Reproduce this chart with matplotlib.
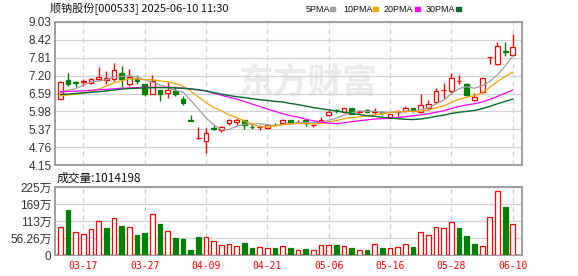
import numpy as np
import matplotlib.pyplot as plt
from matplotlib.patches import Rectangle

# ---- data (60 trading days, 2025-03-12 .. 2025-06-10) ----
opens = [6.40, 7.05, 6.97, 6.99, 6.96, 7.08, 7.05, 7.08, 7.29, 6.92,
         7.09, 6.92, 6.58, 6.72, 6.60, 6.67, 6.39, 5.67, 5.07, 4.98,
         5.40, 5.34, 5.57, 5.62, 5.68, 5.46, 5.44, 5.40, 5.53, 5.59,
         5.70, 5.62, 5.70, 5.50, 5.61, 5.84, 6.02, 5.95, 6.08, 5.97,
         6.04, 5.97, 5.96, 5.80, 5.95, 6.00, 6.09, 5.96, 6.11, 6.30,
         6.70, 6.67, 7.02, 6.90, 6.38, 6.65, 7.83, 7.59, 8.03, 7.91]
highs = [7.00, 7.30, 7.01, 7.08, 7.12, 7.48, 7.37, 7.62, 7.54, 7.43,
         7.23, 6.93, 7.22, 6.72, 6.97, 6.81, 6.52, 5.85, 5.45, 5.42,
         5.51, 5.47, 5.72, 5.76, 5.68, 5.57, 5.52, 5.55, 5.60, 5.72,
         5.70, 5.69, 5.73, 5.54, 5.80, 6.02, 6.07, 6.11, 6.08, 6.04,
         6.06, 6.10, 6.00, 5.90, 6.04, 6.17, 6.11, 6.56, 6.38, 6.77,
         6.96, 7.30, 7.23, 6.94, 6.60, 7.12, 7.84, 8.35, 8.35, 8.61]
lows = [6.39, 6.84, 6.81, 6.85, 6.92, 7.03, 6.90, 7.01, 6.82, 6.84,
        6.92, 6.49, 6.56, 6.35, 6.44, 6.52, 6.19, 5.64, 5.05, 4.57,
        5.36, 5.28, 5.52, 5.52, 5.38, 5.38, 5.36, 5.38, 5.50, 5.55,
        5.58, 5.57, 5.47, 5.45, 5.57, 5.81, 5.93, 5.93, 5.90, 5.90,
        5.93, 5.87, 5.85, 5.79, 5.81, 5.96, 5.95, 5.94, 6.02, 6.26,
        6.44, 6.58, 6.92, 6.49, 6.35, 6.62, 7.59, 7.55, 7.87, 7.89]
closes = [6.99, 6.91, 6.95, 7.00, 7.08, 7.17, 7.12, 7.39, 7.08, 7.17,
          7.02, 6.58, 7.03, 6.58, 6.72, 6.58, 6.28, 5.65, 5.08, 5.23,
          5.38, 5.43, 5.68, 5.69, 5.50, 5.45, 5.46, 5.52, 5.51, 5.70,
          5.58, 5.63, 5.59, 5.51, 5.70, 5.96, 6.01, 6.08, 5.90, 5.98,
          5.95, 5.98, 5.94, 5.88, 6.00, 6.11, 5.98, 6.19, 6.24, 6.69,
          6.72, 7.12, 7.03, 6.53, 6.47, 7.12, 7.84, 8.20, 8.02, 8.16]

ma5 = [6.62, 6.70, 6.76, 6.87, 6.99, 7.02, 7.06, 7.15, 7.17, 7.19,
       7.16, 7.05, 6.98, 6.88, 6.79, 6.70, 6.64, 6.36, 6.06, 5.76,
       5.52, 5.35, 5.36, 5.48, 5.54, 5.55, 5.56, 5.52, 5.49, 5.53,
       5.56, 5.59, 5.60, 5.60, 5.60, 5.68, 5.75, 5.85, 5.93, 5.99,
       5.98, 5.98, 5.95, 5.95, 5.95, 5.98, 5.98, 6.03, 6.10, 6.24,
       6.36, 6.59, 6.76, 6.82, 6.77, 6.85, 7.00, 7.23, 7.53, 7.87]
ma10 = [6.51, 6.54, 6.57, 6.61, 6.65, 6.74, 6.84, 6.95, 7.03, 7.09,
        7.09, 7.06, 7.06, 7.02, 6.99, 6.93, 6.84, 6.67, 6.47, 6.28,
        6.11, 6.00, 5.86, 5.77, 5.65, 5.54, 5.46, 5.44, 5.49, 5.53,
        5.55, 5.57, 5.56, 5.55, 5.57, 5.62, 5.67, 5.73, 5.77, 5.79,
        5.83, 5.87, 5.90, 5.94, 5.97, 5.98, 5.98, 5.99, 6.03, 6.10,
        6.17, 6.29, 6.40, 6.46, 6.51, 6.61, 6.80, 7.00, 7.17, 7.32]
ma20 = [6.65, 6.66, 6.67, 6.68, 6.70, 6.72, 6.73, 6.75, 6.77, 6.78,
        6.79, 6.80, 6.80, 6.80, 6.80, 6.79, 6.77, 6.74, 6.71, 6.68,
        6.60, 6.53, 6.46, 6.40, 6.32, 6.23, 6.15, 6.06, 5.98, 5.90,
        5.83, 5.79, 5.71, 5.66, 5.61, 5.58, 5.56, 5.59, 5.63, 5.66,
        5.69, 5.72, 5.73, 5.74, 5.77, 5.80, 5.83, 5.86, 5.90, 5.95,
        6.00, 6.08, 6.15, 6.20, 6.24, 6.30, 6.39, 6.49, 6.60, 6.71]
ma30 = [6.56, 6.57, 6.59, 6.61, 6.63, 6.65, 6.68, 6.71, 6.74, 6.76,
        6.77, 6.78, 6.79, 6.79, 6.79, 6.78, 6.77, 6.75, 6.72, 6.68,
        6.62, 6.57, 6.52, 6.48, 6.45, 6.41, 6.38, 6.35, 6.32, 6.30,
        6.25, 6.21, 6.16, 6.11, 6.07, 6.03, 5.99, 5.95, 5.91, 5.87,
        5.83, 5.81, 5.78, 5.75, 5.73, 5.71, 5.70, 5.72, 5.76, 5.81,
        5.85, 5.91, 5.95, 5.98, 6.01, 6.07, 6.15, 6.24, 6.32, 6.40]

# volume in 万 shares, 1 = up day (red), 0 = down day (green)
volume = [92, 148, 75, 68, 85, 114, 89, 121, 95, 94,
          66, 72, 137, 102, 81, 56, 53, 16, 60, 60,
          46, 33, 35, 30, 40, 23, 26, 22, 23, 30,
          23, 15, 20, 15, 33, 33, 33, 30, 23, 15,
          16, 35, 23, 23, 26, 35, 26, 75, 65, 92,
          88, 108, 89, 63, 36, 29, 127, 211, 158, 101.4198]
vol_up = [1, 0, 1, 1, 1, 1, 0, 1, 0, 1,
          0, 0, 1, 0, 1, 0, 0, 0, 0, 1,
          1, 1, 1, 1, 0, 0, 1, 1, 0, 1,
          0, 1, 0, 1, 1, 1, 0, 1, 0, 1,
          0, 1, 0, 1, 1, 1, 0, 1, 1, 1,
          1, 1, 0, 0, 0, 1, 1, 1, 0, 1]

tick_idx = [3, 11, 19, 27, 35, 43, 51, 59]
tick_labels = ['03-17', '03-27', '04-09', '04-21', '05-06', '05-16', '05-28', '06-10']
price_ticks = [4.15, 4.76, 5.37, 5.98, 6.59, 7.20, 7.81, 8.42, 9.03]
vol_ticks = [0, 56.25, 112.5, 168.75, 225]
vol_tick_labels = ['0', '56.26万', '113万', '169万', '225万']

RED = '#ff0000'
GREEN = '#008000'
BORDER = '#999999'
GRID = '#d3d3d3'
LABEL = '#333333'
CJK = ['Noto Sans CJK SC', 'DejaVu Sans']
NUM = ['Liberation Sans', 'Noto Sans CJK SC']

fig = plt.figure(figsize=(5.78, 2.76), dpi=100)
fig.patch.set_facecolor('white')
W, H = 578, 276
ax = fig.add_axes([55 / W, 1 - 165 / H, 467 / W, 143 / H])
axv = fig.add_axes([55 / W, 1 - 255 / H, 467 / W, 68 / H])

x = np.arange(len(closes))
o = np.array(opens)
h = np.array(highs)
l = np.array(lows)
c = np.array(closes)
up = c >= o
top = np.maximum(o, c)
bot = np.minimum(o, c)
body = np.maximum(top - bot, 0.008)
cols = np.where(up, RED, GREEN)

for a in (ax, axv):
    a.set_xlim(-0.7, 60.2)
    for s in a.spines.values():
        s.set_color(BORDER)
        s.set_linewidth(1.3)
    a.set_xticks(tick_idx)
    a.tick_params(length=0)
    a.grid(axis='y', color=GRID, lw=0.9, zorder=0)
    a.set_axisbelow(True)
    for t in tick_idx:
        a.axvline(t, color=GRID, lw=0.9, ls=(0, (4, 3)), zorder=0)

# watermark
ax.text(0.395, 0.58, '东方财富', transform=ax.transAxes, fontsize=25,
        family=CJK, fontweight='bold', color='#ebebeb', ha='left', va='center', zorder=0)

# candles
ax.vlines(x, top, h, colors=cols, lw=1.0, zorder=2)
ax.vlines(x, l, bot, colors=cols, lw=1.0, zorder=2)
ax.bar(x[up], body[up], bottom=bot[up], width=0.62, facecolor='white',
       edgecolor=RED, lw=0.9, zorder=3)
ax.bar(x[~up], body[~up], bottom=bot[~up], width=0.62, facecolor=GREEN,
       edgecolor=GREEN, lw=0.9, zorder=3)

# moving averages
ax.plot(x, ma5, color='#a0a0a0', lw=0.9, zorder=4)
ax.plot(x, ma10, color='#f5a400', lw=0.9, zorder=4)
ax.plot(x, ma20, color='#ff00ff', lw=0.9, zorder=4)
ax.plot(x, ma30, color='#006b2e', lw=1.0, zorder=4)

ax.set_ylim(4.15, 9.03)
ax.set_yticks(price_ticks)
ax.set_yticklabels(['%.2f' % v for v in price_ticks])
ax.tick_params(axis='y', pad=2.5, labelsize=8.5, labelcolor=LABEL)
ax.set_xticklabels([])
for t in ax.get_yticklabels():
    t.set_family(NUM)

# volume
vu = np.array(vol_up) == 1
v = np.array(volume)
axv.bar(x[vu], v[vu], width=0.62, facecolor='white', edgecolor=RED, lw=0.9, zorder=3)
axv.bar(x[~vu], v[~vu], width=0.62, facecolor=GREEN, edgecolor=GREEN, lw=0.9, zorder=3)
axv.set_ylim(0, 225)
axv.set_yticks(vol_ticks)
axv.set_yticklabels(vol_tick_labels)
axv.tick_params(axis='y', pad=2.5, labelsize=8.5, labelcolor=LABEL)
for t in axv.get_yticklabels():
    t.set_family(NUM)
axv.set_xticklabels(tick_labels)
axv.tick_params(axis='x', pad=4, labelsize=7, labelcolor=RED)
for t in axv.get_xticklabels():
    t.set_family('DejaVu Sans Mono')

# header texts
fig.text(50 / W, 1 - 9 / H, '顺钠股份[000533] 2025-06-10 11:30', family=CJK,
         fontsize=8, color='#111111', ha='left', va='center')
fig.text(57 / W, 1 - 178 / H, '成交量:' + '1014198', family=CJK,
         fontsize=8.5, color='#111111', ha='left', va='center')

legend = [('5PMA', 306, 330, '#a0a0a0'), ('10PMA', 343, 373, '#f5a400'),
          ('20PMA', 384, 415, '#ff00ff'), ('30PMA', 426, 456, '#006b2e')]
for name, tx, sx, col in legend:
    fig.text(tx / W, 1 - 9 / H, name, fontsize=6.5, family='Liberation Sans',
             color='#111111', ha='left', va='center')
    fig.patches.append(Rectangle((sx / W, 1 - 10.5 / H), 5 / W, 3 / H,
                                 transform=fig.transFigure, color=col))

fig.savefig('out.png', dpi=100)
